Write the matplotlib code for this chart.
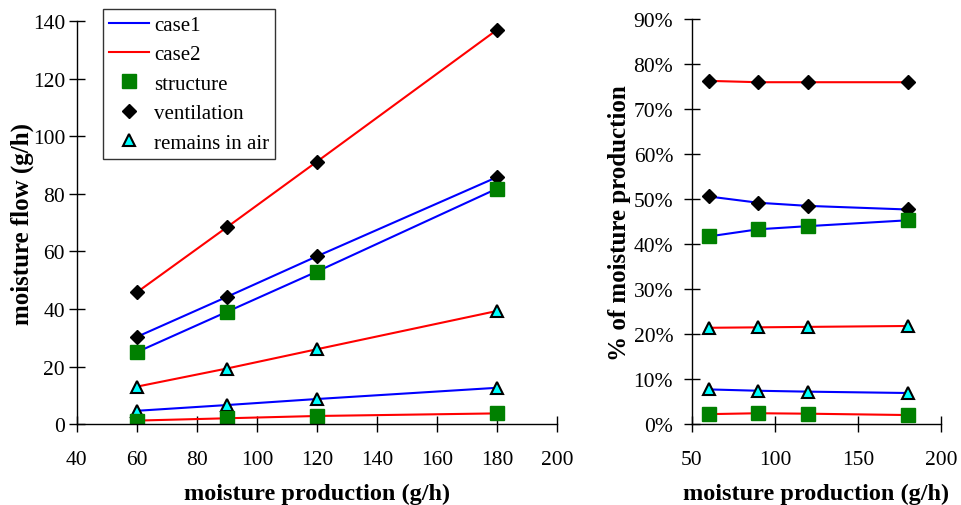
import matplotlib.pyplot as plt
from matplotlib.lines import Line2D
from matplotlib.ticker import PercentFormatter

plt.rcParams['font.family'] = ['Liberation Serif', 'DejaVu Serif']

production = [60, 90, 120, 180]

# moisture flow (g/h)
c1_structure = [25.0, 39.0, 53.0, 81.8]
c1_ventilation = [30.3, 44.2, 58.3, 85.8]
c1_air = [4.6, 6.6, 8.7, 12.6]
c2_structure = [1.2, 2.0, 2.8, 3.7]
c2_ventilation = [45.8, 68.4, 91.2, 137.0]
c2_air = [13.0, 19.3, 26.0, 39.3]

# share of moisture production (%)
c1_structure_pct = [41.7, 43.3, 44.0, 45.3]
c1_ventilation_pct = [50.6, 49.2, 48.5, 47.7]
c1_air_pct = [7.7, 7.4, 7.2, 6.9]
c2_structure_pct = [2.2, 2.4, 2.3, 2.0]
c2_ventilation_pct = [76.3, 76.0, 76.0, 76.0]
c2_air_pct = [21.4, 21.5, 21.6, 21.8]

markers = {
    'structure': dict(marker='s', markersize=10, markerfacecolor='green', markeredgecolor='green'),
    'ventilation': dict(marker='D', markersize=7, markerfacecolor='black', markeredgecolor='black'),
    'air': dict(marker='^', markersize=8, markerfacecolor='cyan', markeredgecolor='black', markeredgewidth=1.5),
}

fig = plt.figure(figsize=(9.61, 5.06), dpi=100)
ax1 = fig.add_axes([0.080, 0.160, 0.4995, 0.796])
ax2 = fig.add_axes([0.720, 0.160, 0.259, 0.800])


def draw(ax, series):
    for vals, color, kind in series:
        ax.plot(production, vals, color=color, lw=1.5, zorder=2, **markers[kind])


draw(ax1, [
    (c2_ventilation, 'red', 'ventilation'),
    (c1_ventilation, 'blue', 'ventilation'),
    (c1_structure, 'blue', 'structure'),
    (c2_air, 'red', 'air'),
    (c1_air, 'blue', 'air'),
    (c2_structure, 'red', 'structure'),
])
draw(ax2, [
    (c2_ventilation_pct, 'red', 'ventilation'),
    (c1_ventilation_pct, 'blue', 'ventilation'),
    (c1_structure_pct, 'blue', 'structure'),
    (c2_air_pct, 'red', 'air'),
    (c1_air_pct, 'blue', 'air'),
    (c2_structure_pct, 'red', 'structure'),
])

ax1.set_xlim(40, 200)
ax1.set_ylim(0, 140)
ax1.set_xticks(range(40, 201, 20))
ax1.set_yticks(range(0, 141, 20))
ax1.set_xlabel('moisture production (g/h)', fontsize=17.5, fontweight='bold', labelpad=10)
ax1.set_ylabel('moisture flow (g/h)', fontsize=18, fontweight='bold', labelpad=-1)

ax2.set_xlim(50, 200)
ax2.set_ylim(0, 90)
ax2.set_xticks([50, 100, 150, 200])
ax2.set_yticks(range(0, 91, 10))
ax2.yaxis.set_major_formatter(PercentFormatter(decimals=0))
ax2.set_xlabel('moisture production (g/h)', fontsize=17.5, fontweight='bold', labelpad=10)
ax2.set_ylabel('% of moisture production', fontsize=18, fontweight='bold', labelpad=2)

for ax in (ax1, ax2):
    ax.spines['top'].set_visible(False)
    ax.spines['right'].set_visible(False)
    ax.tick_params(direction='inout', length=11, width=1, labelsize=15.5)
    ax.tick_params(axis='x', pad=13)
    for s in ('left', 'bottom'):
        ax.spines[s].set_linewidth(1)
ax1.tick_params(axis='y', pad=3)
ax2.tick_params(axis='y', pad=8)

handles = [
    Line2D([], [], color='blue', lw=1.5),
    Line2D([], [], color='red', lw=1.5),
    Line2D([], [], linestyle='none', **markers['structure']),
    Line2D([], [], linestyle='none', **markers['ventilation']),
    Line2D([], [], linestyle='none', **markers['air']),
]
labels = ['case1', 'case2', 'structure', 'ventilation', 'remains in air']
leg = ax1.legend(handles, labels, loc='upper left', bbox_to_anchor=(0.054, 1.03),
                 fontsize=15, frameon=True, fancybox=False, edgecolor='black',
                 handlelength=1.9, handletextpad=0.25, labelspacing=0.47,
                 borderpad=0.3, borderaxespad=0)
leg.get_frame().set_linewidth(1)

fig.savefig('out.png', dpi=100)
